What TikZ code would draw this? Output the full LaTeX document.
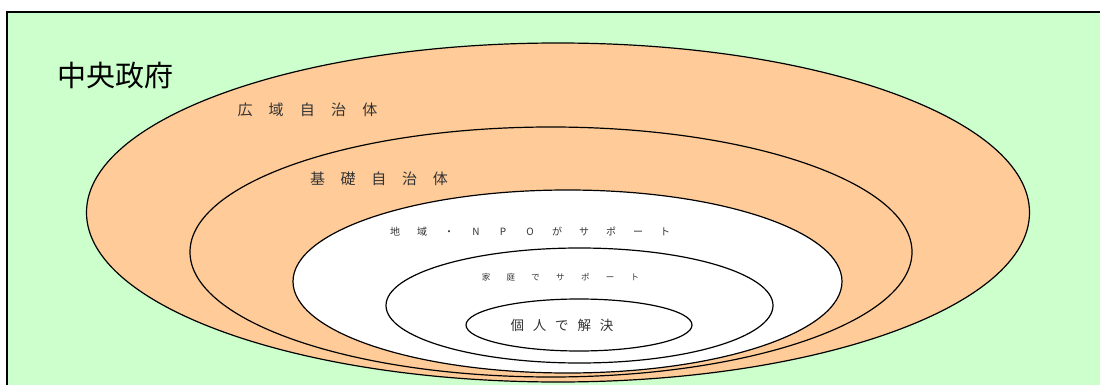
\documentclass[tikz,border=0pt]{standalone}
\usepackage{fontspec}
\newfontfamily\jp{Noto Sans CJK JP}
\definecolor{bggreen}{HTML}{CCFFCC}
\definecolor{ringorange}{HTML}{FFCC99}
\definecolor{txtgray}{HTML}{333333}
\newcommand{\pc}[2]{\makebox[#1]{#2}}
\begin{document}
\begin{tikzpicture}[x=1pt,y=-1pt,
  ring/.style={draw=black,line width=1.2pt},
  lbl/.style={inner sep=0pt,text=txtgray,font=\jp}]
\useasboundingbox (0,0) rectangle (1100,385);
\clip (0,0) rectangle (1100,385);
\draw[fill=bggreen,draw=black,line width=2pt] (7,12.5) rectangle (1115,400);
\draw[ring,fill=ringorange] (558,212.5) ellipse [x radius=471.5,y radius=169.5];
\draw[ring,fill=ringorange] (551,252) ellipse [x radius=361,y radius=125];
\draw[ring,fill=white] (567.5,281.5) ellipse [x radius=274.5,y radius=91.5];
\draw[ring,fill=white] (579.5,305.5) ellipse [x radius=193.5,y radius=57.5];
\draw[ring,fill=white] (579,325) ellipse [x radius=113,y radius=26];
\node[lbl,text=black,font=\jp\fontsize{29}{29}\selectfont] (gov) at (115.5,76) {中央政府};
\node[lbl,font=\jp\fontsize{15}{15}\selectfont] (pref) at (307.5,110) {\pc{31.25pt}{広}\pc{31.25pt}{域}\pc{31.25pt}{自}\pc{31.25pt}{治}\pc{31.25pt}{体}};
\node[lbl,font=\jp\fontsize{15}{15}\selectfont] (muni) at (379,179) {\pc{30.75pt}{基}\pc{30.75pt}{礎}\pc{30.75pt}{自}\pc{30.75pt}{治}\pc{30.75pt}{体}};
\node[lbl,font=\jp\fontsize{10}{10}\selectfont] (npo) at (530,232) {\pc{27pt}{地}\pc{27pt}{域}\pc{27pt}{・}\pc{27pt}{N}\pc{27pt}{P}\pc{27pt}{O}\pc{27pt}{が}\pc{27pt}{サ}\pc{27pt}{ポ}\pc{27pt}{ー}\pc{27pt}{ト}};
\node[lbl,font=\jp\fontsize{8.5}{8.5}\selectfont] (home) at (560.5,277) {\pc{24.8pt}{家}\pc{24.8pt}{庭}\pc{24.8pt}{で}\pc{24.8pt}{サ}\pc{24.8pt}{ポ}\pc{24.8pt}{ー}\pc{24.8pt}{ト}};
\node[lbl,font=\jp\fontsize{13.5}{13.5}\selectfont] (self) at (562,325) {\pc{22.3pt}{個}\pc{22.3pt}{人}\pc{22.3pt}{で}\pc{22.3pt}{解}\pc{22.3pt}{決}};
\end{tikzpicture}
\end{document}
